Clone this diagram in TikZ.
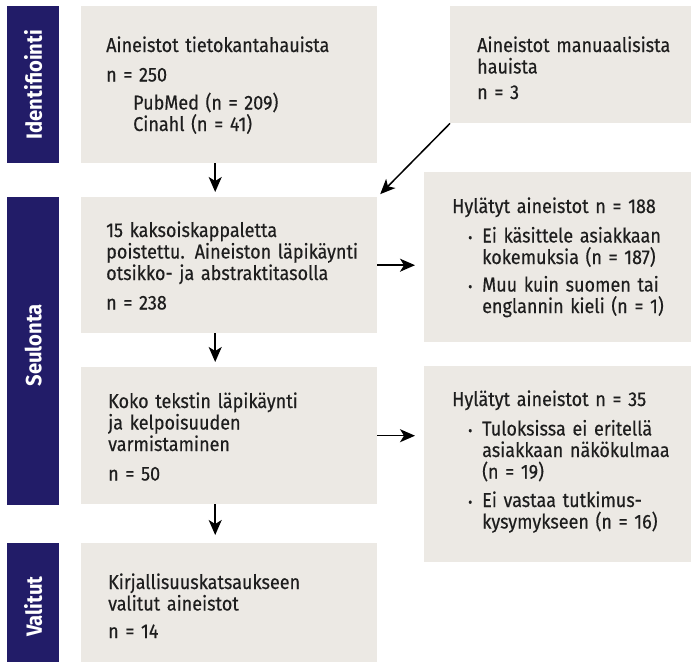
\documentclass[tikz,border=0pt]{standalone}
\usepackage{fontspec}
\setmainfont{Fira Sans}[FakeStretch=0.9,FakeBold=0.35]
\newfontfamily\sidefont{Fira Sans}[FakeStretch=0.92]
\usetikzlibrary{arrows.meta}
\definecolor{navy}{HTML}{221C68}
\definecolor{boxgray}{HTML}{ECE9E4}
\definecolor{txtc}{HTML}{1E1E1E}
\newcommand\bulmark{\hspace*{16pt}\makebox[14pt][l]{\fontsize{14}{14}\selectfont •}}
\newcommand\bulind{\hspace*{30pt}}
\begin{document}
\begin{tikzpicture}[x=1pt,y=-1pt,
  side/.style={fill=navy, draw=none, inner sep=0pt, anchor=north west},
  box/.style={fill=boxgray, draw=none, inner sep=0pt, anchor=north west},
  txt/.style={anchor=base west, inner sep=0pt, text width=300pt, align=left, text=txtc, font=\fontsize{20}{21.5}\selectfont},
  sidetxt/.style={rotate=90, text=white, inner sep=0pt, font=\sidefont\fontsize{22}{24}\selectfont\bfseries},
  arr/.style={-{Stealth[length=15pt,width=13pt,inset=4pt]}, line width=1.5pt, black}]
\useasboundingbox (0,0) rectangle (692,662);
% sidebars
\node[side, minimum width=52pt, minimum height=157pt] (s1) at (7,6) {};
\node[side, minimum width=52pt, minimum height=308pt] (s2) at (7,197) {};
\node[side, minimum width=52pt, minimum height=119pt] (s3) at (7,543) {};
\node[sidetxt] (l1) at (s1.center) {Identifiointi};
\node[sidetxt] (l2) at ([yshift=6pt]s2.center) {Seulonta};
\node[sidetxt] (l3) at ([yshift=-4pt]s3.center) {Valitut};
% boxes
\node[box, minimum width=296pt, minimum height=157pt] (b1) at (81,6) {};
\node[box, minimum width=241pt, minimum height=117pt] (b2) at (450,6) {};
\node[box, minimum width=296pt, minimum height=136pt] (b3) at (81,197) {};
\node[box, minimum width=267pt, minimum height=170pt] (b4) at (424,172) {};
\node[box, minimum width=296pt, minimum height=137pt] (b5) at (81,367) {};
\node[box, minimum width=267pt, minimum height=196pt] (b6) at (424,366) {};
\node[box, minimum width=296pt, minimum height=119pt] (b7) at (81,543) {};
% texts
\node[txt] (t1) at (106,52) {Aineistot tietokantahauista\\[8pt]n = 250\\[6.5pt]\hspace*{27pt}PubMed (n = 209)\\\hspace*{27pt}Cinahl (n = 41)};
\node[txt] (t2) at (477,52) {Aineistot manuaalisista\\hauista\\[4pt]n = 3};
\node[txt] (t3) at (106,237) {15 kaksoiskappaletta\\poistettu. Aineiston läpikäynti\\otsikko- ja abstraktitasolla\\[8pt]n = 238};
\node[txt] (t4) at (452,213) {Hylätyt aineistot n = 188\\[8pt]\bulmark Ei käsittele asiakkaan\\\bulind kokemuksia (n = 187)\\[6pt]\bulmark Muu kuin suomen tai\\\bulind englannin kieli (n = 1)};
\node[txt] (t5) at (108,408) {Koko tekstin läpikäynti\\ja kelpoisuuden\\varmistaminen\\[8pt]n = 50};
\node[txt] (t6) at (452,406) {Hylätyt aineistot n = 35\\[8pt]\bulmark Tuloksissa ei eritellä\\\bulind asiakkaan näkökulmaa\\\bulind (n = 19)\\[7pt]\bulmark Ei vastaa tutkimus-\\\bulind kysymykseen (n = 16)};
\node[txt] (t7) at (108,589) {Kirjallisuuskatsaukseen\\valitut aineistot\\[6pt]n = 14};
% arrows
\draw[arr, shorten >=5pt] ([xshift=-14pt]b1.south) -- ([xshift=-14pt]b3.north);
\draw[arr, shorten >=4pt] (b2.south west) -- (b3.north east);
\draw[arr, shorten >=9pt] (b3.east) -- (b3.east -| b4.west);
\draw[arr, shorten >=5pt] ([xshift=-14pt]b3.south) -- ([xshift=-14pt]b5.north);
\draw[arr, shorten >=9pt] (b5.east) -- (b5.east -| b6.west);
\draw[arr, shorten >=8pt] ([xshift=-14pt]b5.south) -- ([xshift=-14pt]b7.north);
\end{tikzpicture}
\end{document}
